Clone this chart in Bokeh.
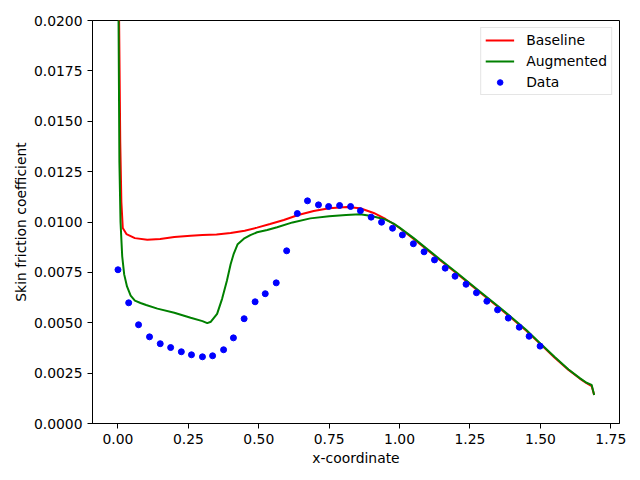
from bokeh.plotting import figure
from bokeh.models import Range1d, FixedTicker, PrintfTickFormatter
from bokeh.embed import file_html
from bokeh.resources import INLINE

# ---- data ----
baseline_x = [0.0, 0.004, 0.008, 0.012, 0.017, 0.03, 0.06, 0.104, 0.15, 0.2, 0.258, 0.3,
              0.35, 0.4, 0.45, 0.494, 0.54, 0.589, 0.64, 0.695, 0.75, 0.813, 0.86, 0.908,
              0.95, 0.979, 1.0, 1.05, 1.144, 1.2, 1.286, 1.35, 1.4, 1.45, 1.5, 1.55, 1.6,
              1.64, 1.664, 1.682, 1.691]
baseline_y = [0.035, 0.0200, 0.0140, 0.0110, 0.0097, 0.0094, 0.0092, 0.00912, 0.00916,
              0.00925, 0.00932, 0.00935, 0.00938, 0.00945, 0.00957, 0.00972, 0.0099,
              0.0101, 0.01035, 0.01055, 0.01068, 0.01074, 0.01068, 0.01045, 0.01015,
              0.0099, 0.0097, 0.00916, 0.0081, 0.00748, 0.0065, 0.00578, 0.0052, 0.0046,
              0.00394, 0.00328, 0.00266, 0.00223, 0.002, 0.00186, 0.00142]

augmented_x = [0.0, 0.002, 0.005, 0.009, 0.015, 0.022, 0.032, 0.045, 0.06, 0.08, 0.1,
               0.14, 0.2, 0.258, 0.3, 0.317, 0.33, 0.352, 0.37, 0.387, 0.4, 0.411, 0.425,
               0.447, 0.47, 0.494, 0.53, 0.565, 0.62, 0.683, 0.75, 0.81, 0.86, 0.9, 0.95,
               0.979, 1.0, 1.05, 1.144, 1.2, 1.286, 1.35, 1.4, 1.45, 1.5, 1.55, 1.6, 1.64,
               1.664, 1.682, 1.691]
augmented_y = [0.035, 0.0200, 0.0130, 0.0100, 0.0083, 0.0074, 0.0068, 0.00635, 0.0061,
               0.00598, 0.00588, 0.0057, 0.0055, 0.00525, 0.00508, 0.00498, 0.00505,
               0.00544, 0.0062, 0.0071, 0.0079, 0.00842, 0.0089, 0.00917, 0.00935,
               0.00949, 0.0096, 0.00974, 0.00998, 0.01018, 0.01028, 0.01035, 0.01038,
               0.0103, 0.01012, 0.00992, 0.00972, 0.0092, 0.00814, 0.00752, 0.00654,
               0.00582, 0.00524, 0.00464, 0.00397, 0.00331, 0.00268, 0.00225, 0.00202,
               0.00192, 0.00142]

data_x = [0.000, 0.038, 0.073, 0.112, 0.150, 0.187, 0.225, 0.261, 0.300, 0.336, 0.375,
          0.410, 0.448, 0.487, 0.523, 0.562, 0.599, 0.637, 0.673, 0.712, 0.748, 0.787,
          0.826, 0.861, 0.899, 0.936, 0.975, 1.010, 1.049, 1.087, 1.124, 1.162, 1.197,
          1.236, 1.273, 1.310, 1.348, 1.386, 1.425, 1.460, 1.499]
data_y = [0.00763, 0.00599, 0.00490, 0.00430, 0.00396, 0.00377, 0.00356, 0.00341,
          0.00331, 0.00336, 0.00366, 0.00425, 0.00520, 0.00604, 0.00644, 0.00698,
          0.00857, 0.01042, 0.01105, 0.01085, 0.01077, 0.01082, 0.01077, 0.01056,
          0.01024, 0.00999, 0.00969, 0.00936, 0.00892, 0.00852, 0.00812, 0.00771,
          0.00731, 0.00691, 0.00649, 0.00607, 0.00564, 0.00523, 0.00478, 0.00433,
          0.00384]

x_ticks = [0.0, 0.25, 0.5, 0.75, 1.0, 1.25, 1.5, 1.75]
y_ticks = [0.0, 0.0025, 0.005, 0.0075, 0.01, 0.0125, 0.015, 0.0175, 0.02]

FONT = "DejaVu Sans"
FS = "13.9px"

p = figure(frame_width=527, frame_height=403, output_backend="svg", toolbar_location=None,
           x_range=Range1d(-0.0905, 1.781), y_range=Range1d(0.0, 0.02),
           min_border_left=92, min_border_right=21, min_border_top=20, min_border_bottom=57)

p.line(baseline_x, baseline_y, line_color="#ff0000", line_width=2, legend_label="Baseline")
p.line(augmented_x, augmented_y, line_color="#008000", line_width=2, legend_label="Augmented")
p.scatter(data_x, data_y, size=6, fill_color="#0000ff", line_color="#0000ff", legend_label="Data")

p.grid.visible = False
p.outline_line_color = "black"
p.outline_line_width = 1
p.background_fill_color = "white"
p.border_fill_color = "white"

p.xaxis.ticker = FixedTicker(ticks=x_ticks)
p.yaxis.ticker = FixedTicker(ticks=y_ticks)
p.xaxis.formatter = PrintfTickFormatter(format="%.2f")
p.yaxis.formatter = PrintfTickFormatter(format="%.4f")
p.xaxis.axis_label = "x-coordinate"
p.yaxis.axis_label = "Skin friction coefficient"

for ax in (p.xaxis, p.yaxis):
    ax.axis_line_color = "black"
    ax.axis_line_width = 1
    ax.major_tick_line_color = "black"
    ax.major_tick_out = 5
    ax.major_tick_in = 0
    ax.minor_tick_line_color = None
    ax.major_label_text_font = FONT
    ax.major_label_text_font_size = FS
    ax.major_label_text_color = "black"
    ax.major_label_standoff = 5
    ax.axis_label_text_font = FONT
    ax.axis_label_text_font_size = FS
    ax.axis_label_text_font_style = "normal"
    ax.axis_label_text_color = "black"

p.xaxis.axis_label_standoff = 3
p.yaxis.axis_label_standoff = 2

lg = p.legend[0]
lg.location = "top_right"
lg.margin = 7
lg.padding = 4
lg.spacing = 5
lg.glyph_width = 29
lg.glyph_height = 14
lg.label_height = 14
lg.label_standoff = 12
lg.label_text_font = FONT
lg.label_text_font_size = FS
lg.label_text_color = "black"
lg.border_line_color = "#cccccc"
lg.border_line_width = 1
lg.background_fill_color = "white"
lg.background_fill_alpha = 0.8

open("out.html", "w").write(file_html(p, INLINE))
